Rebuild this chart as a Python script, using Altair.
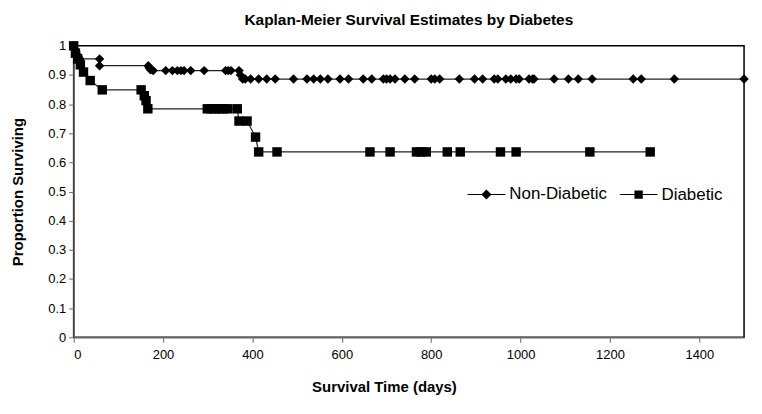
import altair as alt
import pandas as pd

# Non-Diabetic series (survival time in days, proportion surviving)
nd_t = [0, 2, 5, 8, 11, 14, 58, 58, 167, 169, 172, 178, 206, 221, 232, 240, 247, 262, 292,
        340, 346, 352, 370, 373, 378, 384, 396, 414, 432, 451, 492, 522, 537, 552, 569, 596,
        615, 648, 667, 693, 700, 708, 719, 741, 763, 800, 808, 819, 863, 897, 915, 941, 949,
        967, 978, 990, 997, 1019, 1027, 1030, 1075, 1107, 1129, 1160, 1252, 1270, 1344, 1500]
nd_s = [1.0, 0.99, 0.98, 0.97, 0.96, 0.955, 0.955, 0.932, 0.932, 0.925, 0.918, 0.915, 0.915,
        0.915, 0.915, 0.915, 0.915, 0.915, 0.915, 0.915, 0.915, 0.915, 0.915, 0.9, 0.886]
nd_s = nd_s + [0.886] * (len(nd_t) - len(nd_s))

# Diabetic series
d_t = [0, 4, 9, 15, 22, 37, 64, 151, 158, 162, 166, 299, 308, 317, 326, 335, 345, 366, 370,
       388, 407, 414, 455, 663, 708, 767, 778, 789, 836, 865, 955, 990, 1155, 1290]
d_s = [1.0, 0.975, 0.955, 0.935, 0.91, 0.881, 0.849, 0.849, 0.829, 0.812, 0.784, 0.784, 0.784,
       0.784, 0.784, 0.784, 0.784, 0.784, 0.742, 0.742, 0.687, 0.636]
d_s = d_s + [0.636] * (len(d_t) - len(d_s))

series_names = ["Non-Diabetic", "Diabetic"]
y_ticks = [0, 0.1, 0.2, 0.3, 0.4, 0.5, 0.6, 0.7, 0.8, 0.9, 1]
x_ticks = [0, 200, 400, 600, 800, 1000, 1200, 1400]

rows = []
for i, (t, s) in enumerate(zip(nd_t, nd_s)):
    rows.append({"series": "Non-Diabetic", "t": t, "s": s, "idx": i})
for i, (t, s) in enumerate(zip(d_t, d_s)):
    rows.append({"series": "Diabetic", "t": t, "s": s, "idx": i})
df = pd.DataFrame(rows)
legend_df = df.groupby("series", as_index=False).first()

FONT = "Liberation Sans"

x_enc = alt.X("t:Q", scale=alt.Scale(domain=[0, 1500], nice=False),
              axis=alt.Axis(values=x_ticks, format="d", title="Survival Time (days)", grid=False,
                            labelFontSize=13, titleFontSize=15, titleFontWeight="bold",
                            titlePadding=19, tickSize=5, labelPadding=6, titleX=312,
                            labelOverlap=False))
y_enc = alt.Y("s:Q", scale=alt.Scale(domain=[0, 1], nice=False),
              axis=alt.Axis(values=y_ticks, format="~g", title="Proportion Surviving",
                            grid=False, labelFontSize=13, titleFontSize=15,
                            titleFontWeight="bold", titlePadding=22, tickSize=5,
                            labelPadding=3, labelOverlap=False))

lines = alt.Chart(df).mark_line(color="#222222", strokeWidth=1.2).encode(
    x=x_enc, y=y_enc, detail="series:N", order="idx:Q")

points = alt.Chart(df).mark_point(filled=True, color="black", opacity=1, size=90).encode(
    x=x_enc, y=y_enc,
    shape=alt.Shape("series:N", scale=alt.Scale(domain=series_names, range=["diamond", "square"]),
                    legend=None))

legend_paths = [
    "M-1,-0.03L1,-0.03L1,0.03L-1,0.03ZM-0.27,0L0,-0.27L0.27,0L0,0.27Z",
    "M-1,-0.03L1,-0.03L1,0.03L-1,0.03ZM-0.22,-0.22L0.22,-0.22L0.22,0.22L-0.22,0.22Z",
]
legend_layer = alt.Chart(legend_df).mark_point(filled=True, color="black", opacity=0).encode(
    x=x_enc, y=y_enc,
    shape=alt.Shape("series:N", scale=alt.Scale(domain=series_names, range=legend_paths),
                    legend=alt.Legend(title=None, orient="none", legendX=395, legendY=129,
                                      direction="horizontal", symbolSize=1444,
                                      symbolOpacity=1, symbolFillColor="black",
                                      labelFontSize=17, labelFont=FONT, labelOffset=3,
                                      columnPadding=9, padding=0)))

chart = alt.layer(lines, points, legend_layer).resolve_scale(shape="independent").properties(
    width=674, height=293,
    title=alt.TitleParams("Kaplan-Meier Survival Estimates by Diabetes", fontSize=15.5,
                          fontWeight="bold", font=FONT, offset=11),
    padding={"left": 2, "top": 4, "right": 5, "bottom": 5},
).configure(font=FONT).configure_view(stroke="black", strokeWidth=1.5).configure_axis(
    domainColor="#666666", domainWidth=1.5, tickColor="#666666", labelColor="black",
    titleColor="black", labelFont=FONT, titleFont=FONT)

chart.save("out.html", embed_options={"renderer": "svg", "actions": False})
